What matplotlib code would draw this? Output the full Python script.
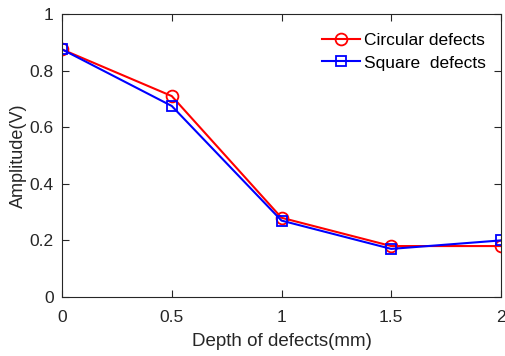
import matplotlib
matplotlib.use('Agg')
import matplotlib.pyplot as plt

plt.rcParams['font.family'] = ['Liberation Sans', 'DejaVu Sans']

depth = [0, 0.5, 1, 1.5, 2]
circular = [0.875, 0.71, 0.28, 0.18, 0.18]
square = [0.875, 0.675, 0.27, 0.17, 0.20]

fig = plt.figure(figsize=(5.05, 3.56), dpi=100)
ax = fig.add_axes([62 / 505, 1 - 297 / 356, (501 - 62) / 505, (297 - 14) / 356])

ax.plot(depth, circular, color='r', marker='o', markersize=8.5, markerfacecolor='none',
        markeredgewidth=1.3, linewidth=1.5, label='Circular defects')
ax.plot(depth, square, color='b', marker='s', markersize=7, markerfacecolor='none',
        markeredgewidth=1.3, linewidth=1.5, label='Square  defects')

ax.set_xlim(0, 2)
ax.set_ylim(0, 1)
ax.set_xticks([0, 0.5, 1, 1.5, 2])
ax.set_xticklabels(['0', '0.5', '1', '1.5', '2'])
ax.set_yticks([0, 0.2, 0.4, 0.6, 0.8, 1])
ax.set_yticklabels(['0', '0.2', '0.4', '0.6', '0.8', '1'])
ax.tick_params(direction='in', top=True, right=True, labelsize=12.5, colors='#262626',
               length=5, width=0.8)
ax.tick_params(axis='x', pad=9)
ax.tick_params(axis='y', pad=6)
for s in ax.spines.values():
    s.set_color('#262626')
    s.set_linewidth(0.8)

ax.set_xlabel('Depth of defects(mm)', fontsize=13.5, color='#262626', labelpad=6)
ax.set_ylabel('Amplitude(V)', fontsize=13, color='#262626', labelpad=2)

ax.legend(loc='upper right', frameon=False, fontsize=12.5, handlelength=2.2,
          handletextpad=0.2, borderaxespad=0.5, labelspacing=0.45,
          bbox_to_anchor=(1.0, 0.99))

fig.savefig('out.png', dpi=100)
